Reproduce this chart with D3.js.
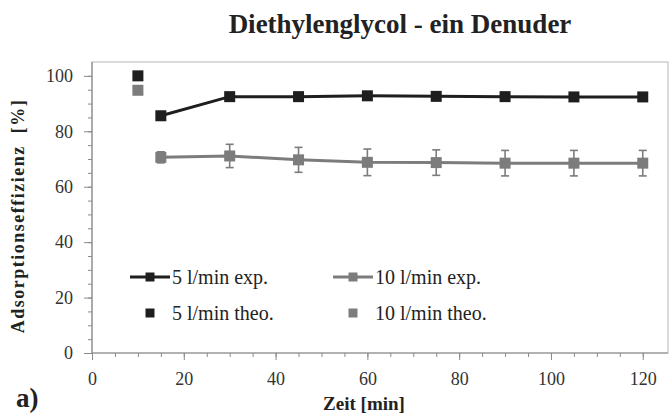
<!DOCTYPE html>
<html><head><meta charset="utf-8">
<script src="https://cdn.jsdelivr.net/npm/d3@7"></script>
</head><body style="margin:0;background:#fff"><svg id="c" width="670" height="414" style="display:block"></svg>
<script>
const times = [15, 30, 45, 60, 75, 90, 105, 120];
const exp5 = [85.6, 92.5, 92.5, 92.8, 92.6, 92.5, 92.4, 92.4];
const exp10 = [70.6, 71.1, 69.7, 68.8, 68.7, 68.5, 68.5, 68.5];
const err10 = [2.0, 4.2, 4.5, 4.8, 4.6, 4.6, 4.6, 4.6];
const theoTime = [10];
const theo5 = [100];
const theo10 = [94.8];
const xTicks = [0, 20, 40, 60, 80, 100, 120];
const yTicks = [0, 20, 40, 60, 80, 100];
const legendLabels = ["5 l/min exp.", "10 l/min exp.", "5 l/min theo.", "10 l/min theo."];

const FF = "Liberation Serif";
const dark = "#1e1e1e", grey = "#7c7c7c", axisCol = "#8a8a8a";
const svg = d3.select("#c");
const L = 92, R = 668, T = 62, B = 353;
const x = d3.scaleLinear().domain([0, 125.5]).range([L, R]);
const y = d3.scaleLinear().domain([0, 105]).range([B, T]);

svg.append("rect").attr("x", L).attr("y", T).attr("width", R - L).attr("height", B - T)
  .attr("fill", "none").attr("stroke", "#c4c4c4").attr("stroke-width", 1.2);

// minor ticks
const gx = svg.append("g").attr("transform", `translate(0,${B})`)
  .call(d3.axisBottom(x).tickValues(d3.range(0, 125, 5)).tickSize(4).tickFormat(""));
gx.selectAll("line").attr("stroke", axisCol);
gx.select(".domain").remove();
gx.selectAll("text").remove();
const gy = svg.append("g").attr("transform", `translate(${L},0)`)
  .call(d3.axisLeft(y).tickValues(d3.range(0, 105, 5)).tickSize(4).tickFormat(""));
gy.selectAll("line").attr("stroke", axisCol);
gy.select(".domain").remove();
gy.selectAll("text").remove();

// major ticks + labels
const gxl = svg.append("g").attr("transform", `translate(0,${B})`)
  .call(d3.axisBottom(x).tickValues(xTicks).tickSize(7).tickFormat(d3.format("d")));
gxl.attr("font-family", FF).attr("font-size", 18);
gxl.selectAll("line").attr("stroke", axisCol);
gxl.select(".domain").remove();
gxl.selectAll("text").attr("font-family", FF).attr("font-size", 18).attr("fill", "#333").attr("y", 19).attr("dy", "0.71em");

const gyl = svg.append("g").attr("transform", `translate(${L},0)`)
  .call(d3.axisLeft(y).tickValues(yTicks).tickSize(8).tickFormat(d3.format("d")));
gyl.attr("font-family", FF).attr("font-size", 18);
gyl.selectAll("line").attr("stroke", axisCol);
gyl.select(".domain").remove();
gyl.selectAll("text").attr("font-family", FF).attr("font-size", 18).attr("fill", "#333").attr("x", -19);

svg.append("line").attr("x1", L).attr("x2", R).attr("y1", B).attr("y2", B).attr("stroke", axisCol).attr("stroke-width", 1.2);
svg.append("line").attr("x1", L).attr("x2", L).attr("y1", T).attr("y2", B).attr("stroke", axisCol).attr("stroke-width", 1.2);

const line = d3.line().x(d => x(d[0])).y(d => y(d[1]));
const s10 = times.map((t, i) => [t, exp10[i]]);
const s5 = times.map((t, i) => [t, exp5[i]]);

const eb = svg.append("g").attr("stroke", grey).attr("stroke-width", 1.6);
s10.forEach((d, i) => {
  const e = err10[i], cx = x(d[0]);
  eb.append("line").attr("x1", cx).attr("x2", cx).attr("y1", y(d[1] - e)).attr("y2", y(d[1] + e));
  eb.append("line").attr("x1", cx - 4).attr("x2", cx + 4).attr("y1", y(d[1] - e)).attr("y2", y(d[1] - e));
  eb.append("line").attr("x1", cx - 4).attr("x2", cx + 4).attr("y1", y(d[1] + e)).attr("y2", y(d[1] + e));
});

svg.append("path").datum(s10).attr("d", line).attr("fill", "none").attr("stroke", grey).attr("stroke-width", 3);
svg.append("path").datum(s5).attr("d", line).attr("fill", "none").attr("stroke", dark).attr("stroke-width", 3);

const ms = 11;
function squares(data, col) {
  svg.append("g").selectAll("rect").data(data).join("rect")
    .attr("x", d => x(d[0]) - ms / 2).attr("y", d => y(d[1]) - ms / 2)
    .attr("width", ms).attr("height", ms).attr("fill", col);
}
squares(s10, grey);
squares(s5, dark);
squares(theoTime.map((t, i) => [t, theo10[i]]), grey);
squares(theoTime.map((t, i) => [t, theo5[i]]), dark);

const leg = [
  {lx: 130, ly: 277, col: dark, line: true, txt: legendLabels[0]},
  {lx: 333, ly: 277, col: grey, line: true, txt: legendLabels[1]},
  {lx: 130, ly: 313, col: dark, line: false, txt: legendLabels[2]},
  {lx: 333, ly: 313, col: grey, line: false, txt: legendLabels[3]}
];
leg.forEach(g => {
  if (g.line) svg.append("line").attr("x1", g.lx).attr("x2", g.lx + 40).attr("y1", g.ly).attr("y2", g.ly)
    .attr("stroke", g.col).attr("stroke-width", 3);
  const s = 9;
  svg.append("rect").attr("x", g.lx + 20 - s / 2).attr("y", g.ly - s / 2).attr("width", s).attr("height", s).attr("fill", g.col);
  svg.append("text").attr("font-family", FF).attr("x", g.lx + 42).attr("y", g.ly + 6.5).attr("font-size", 20).attr("fill", "#222").text(g.txt);
});

svg.append("text").attr("font-family", FF).attr("x", 400).attr("y", 33).attr("text-anchor", "middle").attr("font-size", 27)
  .attr("font-weight", "bold").attr("fill", "#222").text("Diethylenglycol - ein Denuder");
svg.append("text").attr("font-family", FF).attr("x", 364).attr("y", 410).attr("text-anchor", "middle").attr("font-size", 19)
  .attr("font-weight", "bold").attr("fill", "#222").text("Zeit [min]");
svg.append("text").attr("font-family", FF).attr("transform", "translate(24,216) rotate(-90)").attr("text-anchor", "middle")
  .attr("font-size", 18).attr("letter-spacing", 1.5).attr("font-weight", "bold").attr("fill", "#222").text("Adsorptionseffizienz\u00a0\u00a0[%]");
svg.append("text").attr("font-family", FF).attr("x", 16).attr("y", 407).attr("font-size", 27).attr("font-weight", "bold").attr("fill", "#222").text("a)");
</script></body></html>
